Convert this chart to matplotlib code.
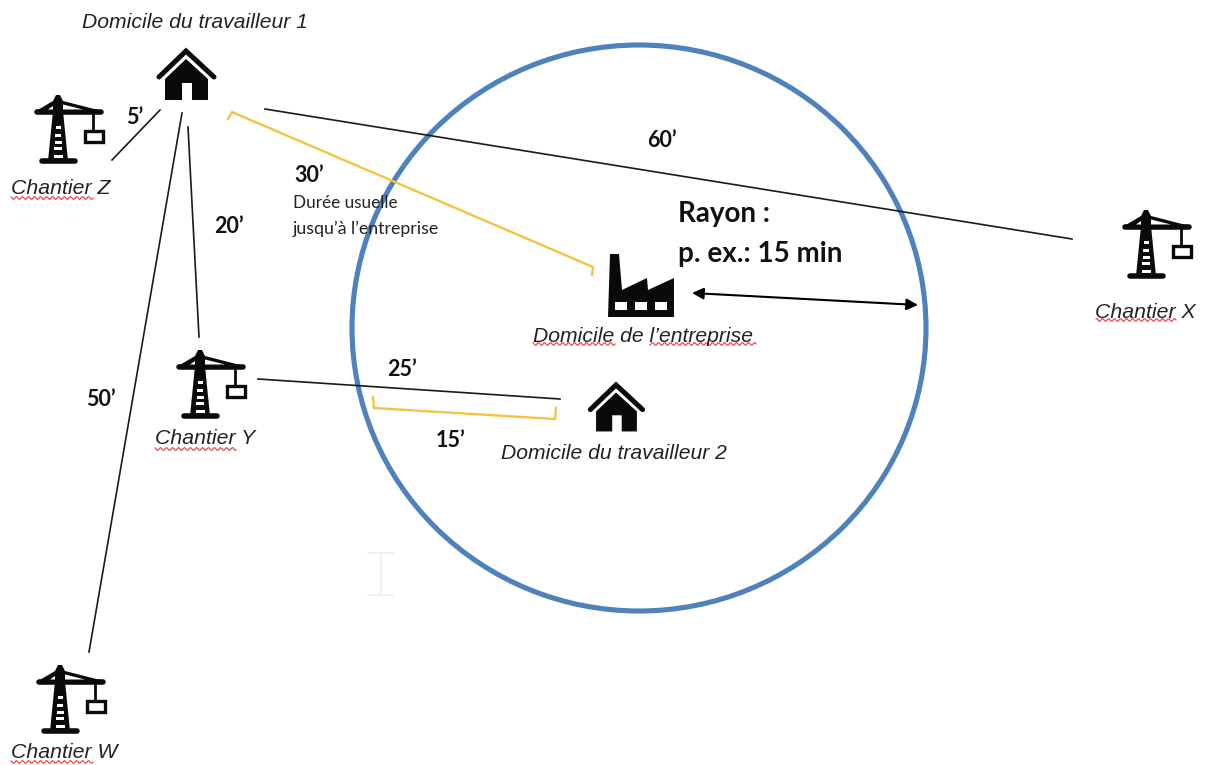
import numpy as np
import matplotlib
matplotlib.use('Agg')
import matplotlib.pyplot as plt
from matplotlib.patches import Polygon, Ellipse, Rectangle

BLACK = '#0a0a0a'
YELLOW = '#f7c244'
BLUE = '#4f81bd'
RED = '#e0393a'

# everything is read in picture pixels
crane_names = ['Chantier Z', 'Chantier Y', 'Chantier X', 'Chantier W']
crane_x = [58, 200, 1146, 60]
crane_y = [95, 350, 210, 665]
crane_label_x = [11, 155, 1095, 11]
crane_label_y = [188, 438, 312, 752]

house_names = ['Domicile du travailleur 1', 'Domicile du travailleur 2']
house_x = [186, 616]
house_y = [49, 383]
house_scale = [1.0, 0.95]
house_label_x = [82, 501]
house_label_y = [22, 453]

line_x0 = [112, 182, 188, 265, 258]
line_y0 = [160, 113, 127, 109, 379]
line_x1 = [160, 89, 199, 1072, 560]
line_y1 = [110, 652, 337, 239, 399]

bracket1_x = [228, 232, 593, 592]
bracket1_y = [119, 112, 267, 275]
bracket2_x = [373, 374, 555, 556]
bracket2_y = [397, 408, 419, 408]

minutes = ["5’", "60’", "30’", "20’", "50’", "25’", "15’"]
minutes_x = [135, 662, 309, 229, 101, 402, 450]
minutes_y = [117, 140, 175, 226, 399, 369, 440]

# squiggles under the words flagged by the spell checker
squiggle_x0 = [11, 155, 1096, 11, 533, 650]
squiggle_x1 = [93, 236, 1176, 93, 615, 756]
squiggle_y = [198, 449, 320, 762, 344, 344]


def draw_crane(ax, x, y):
    # mast
    ax.add_patch(Polygon([(x - 5, y + 16), (x + 5, y + 16), (x + 10, y + 66), (x - 10, y + 66)],
                         fc=BLACK, ec='none', zorder=3))
    for dy, w in zip([31, 39, 46, 52, 60], [2.5, 3, 3.5, 4, 4.5]):
        ax.add_patch(Rectangle((x - w, y + dy), 2 * w, 2.8, fc='white', ec='none', zorder=4))
    ax.plot([x - 16, x + 17], [y + 66, y + 66], color=BLACK, lw=4, solid_capstyle='round', zorder=3)
    # jib
    ax.plot([x - 21, x + 43], [y + 17, y + 17], color=BLACK, lw=4, solid_capstyle='round', zorder=3)
    ax.add_patch(Polygon([(x - 2, y), (x + 2, y), (x + 5, y + 6), (x + 44, y + 16),
                          (x - 22, y + 16), (x - 5, y + 6)], fc=BLACK, ec='none', zorder=3))
    ax.add_patch(Polygon([(x + 5, y + 9.5), (x + 25, y + 14.5), (x + 5, y + 14.5)], fc='white', ec='none', zorder=4))
    ax.add_patch(Polygon([(x - 5, y + 11), (x - 10, y + 14.5), (x - 5, y + 14.5)], fc='white', ec='none', zorder=4))
    # hook and load
    ax.plot([x + 35, x + 35], [y + 18, y + 36], color=BLACK, lw=2.0, zorder=3)
    ax.add_patch(Rectangle((x + 27, y + 36), 18, 11, fc='white', ec=BLACK, lw=2.4, zorder=3))


def draw_house(ax, x, y, s):
    ax.plot([x - 27 * s, x, x + 28 * s], [y + 28 * s, y + 2 * s, y + 28 * s], color=BLACK, lw=3.6,
            solid_joinstyle='miter', solid_capstyle='round', zorder=3)
    ax.add_patch(Polygon([(x - 21 * s, y + 51 * s), (x - 21 * s, y + 30 * s), (x, y + 10 * s),
                          (x + 22 * s, y + 30 * s), (x + 22 * s, y + 51 * s),
                          (x + 6 * s, y + 51 * s), (x + 6 * s, y + 34 * s), (x - 4 * s, y + 34 * s),
                          (x - 4 * s, y + 51 * s)], fc=BLACK, ec='none', zorder=3))


def draw_factory(ax):
    ax.add_patch(Polygon([(608, 317), (610, 254), (619, 254), (622, 290), (647, 278), (648, 290),
                          (674, 278), (674, 317)], fc=BLACK, ec='none', zorder=3))
    for wx in [615, 635, 655]:
        ax.add_patch(Rectangle((wx, 302), 12, 8, fc='white', ec='none', zorder=4))


fig = plt.figure(figsize=(12.11, 7.65), dpi=100)
ax = fig.add_axes([0, 0, 1, 1])
ax.set_xlim(0, 1211)
ax.set_ylim(765, 0)
ax.axis('off')

# radius circle
ax.add_patch(Ellipse((639, 328), 574, 566, fc='none', ec=BLUE, lw=3.7, zorder=2))

for i in range(len(line_x0)):
    ax.plot([line_x0[i], line_x1[i]], [line_y0[i], line_y1[i]], color='#1a1a1a', lw=1.2, zorder=2)

ax.plot(bracket1_x, bracket1_y, color=YELLOW, lw=1.7, zorder=2)
ax.plot(bracket2_x, bracket2_y, color=YELLOW, lw=1.7, zorder=2)

ax.annotate('', xy=(692, 293), xytext=(918, 305),
            arrowprops=dict(arrowstyle='<|-|>', color='black', lw=1.5, mutation_scale=17,
                            shrinkA=0, shrinkB=0), zorder=3)

for i in range(len(crane_names)):
    draw_crane(ax, crane_x[i], crane_y[i])
    ax.text(crane_label_x[i], crane_label_y[i], crane_names[i], family='Liberation Sans', style='italic',
            fontsize=15.3, color='#222222', ha='left', va='center')

for i in range(len(house_names)):
    draw_house(ax, house_x[i], house_y[i], house_scale[i])
    ax.text(house_label_x[i], house_label_y[i], house_names[i], family='Liberation Sans', style='italic',
            fontsize=15.2, color='#222222', ha='left', va='center')

draw_factory(ax)
ax.text(533, 336, 'Domicile de l’entreprise', family='Liberation Sans', style='italic',
        fontsize=15.2, color='#222222', ha='left', va='center')

for i in range(len(minutes)):
    ax.text(minutes_x[i], minutes_y[i], minutes[i], family='Lato', weight='bold', fontsize=15.5,
            color='#111111', ha='center', va='center')

ax.text(293, 203, 'Durée usuelle', family='Lato', fontsize=12.3, color='#222222', ha='left', va='center')
ax.text(293, 229, 'jusqu’à l’entreprise', family='Lato', fontsize=12.8, color='#222222', ha='left', va='center')
ax.text(678, 214, 'Rayon :', family='Lato', weight='bold', fontsize=20, color='#111111', ha='left', va='center')
ax.text(678, 254, 'p. ex.: 15 min', family='Lato', weight='bold', fontsize=20, color='#111111', ha='left', va='center')

for i in range(len(squiggle_x0)):
    sx = np.arange(squiggle_x0[i], squiggle_x1[i] + 0.5, 0.5)
    ax.plot(sx, squiggle_y[i] + 1.3 * np.sin(sx * 2 * np.pi / 6), color=RED, lw=0.8, zorder=2)

# faint text cursor left in the screenshot
ax.plot([368, 393], [553, 553], color='#eef0f0', lw=1.3)
ax.plot([368, 393], [595, 595], color='#eef0f0', lw=1.3)
ax.plot([380.5, 380.5], [553, 595], color='#eef0f0', lw=1.3)

fig.savefig('out.png', dpi=100)
